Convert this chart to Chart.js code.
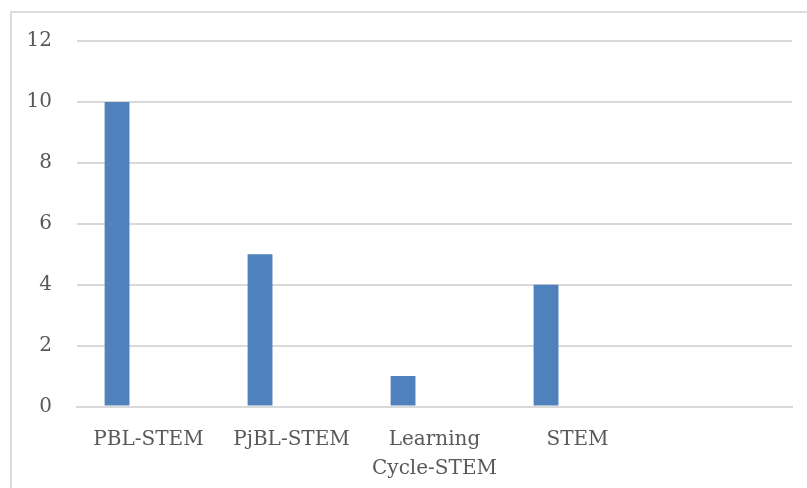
<!DOCTYPE html>
<html>
<head>
<meta charset="utf-8">
<script src="https://cdn.jsdelivr.net/npm/chart.js@4/dist/chart.umd.min.js"></script>
<style>
  html, body { margin: 0; padding: 0; background: #ffffff; overflow: hidden; }
  #frame {
    position: absolute; left: 10px; top: 11px; width: 900px; height: 600px;
    border-left: 2px solid #dcdcdc; border-top: 2px solid #dcdcdc;
  }
  #wrap { position: absolute; left: 0; top: 0; width: 807px; height: 488px; }
</style>
</head>
<body>
<div id="frame"></div>
<div id="wrap"><canvas id="c" width="807" height="488"></canvas></div>
<script>
// Categories (the last slot is left blank)
const categories = ['PBL-STEM', 'PjBL-STEM', ['Learning', 'Cycle-STEM'], 'STEM', ''];
// Series values
const series1 = [10, 5, 1, 4, null];
const series2 = [null, null, null, null, null];
const series3 = [null, null, null, null, null];
// Value axis ticks
const yMin = 0, yMax = 12, yStep = 2;

const textColor = '#595959';
const gridColor = '#d9d9d9';
const font = { family: "'DejaVu Serif', 'Liberation Serif', serif", size: 20 };

new Chart(document.getElementById('c'), {
  type: 'bar',
  data: {
    labels: categories,
    datasets: [
      { label: 'Series1', data: series1, backgroundColor: '#4f81bd' },
      { label: 'Series2', data: series2, backgroundColor: '#c0504d' },
      { label: 'Series3', data: series3, backgroundColor: '#9bbb59' }
    ]
  },
  options: {
    responsive: false,
    animation: false,
    categoryPercentage: 0.66,
    barPercentage: 0.79,
    layout: { padding: { left: 0, right: 15, top: 41, bottom: 0 } },
    plugins: { legend: { display: false }, tooltip: { enabled: false } },
    scales: {
      x: {
        grid: { display: false, drawTicks: false },
        border: { display: true, color: gridColor, width: 2 },
        ticks: { color: textColor, font: { ...font, lineHeight: 1.45 }, padding: 19, maxRotation: 0, autoSkip: false },
        afterFit: s => { s.height = 81.5; }
      },
      y: {
        min: yMin, max: yMax,
        grid: { color: gridColor, lineWidth: 2, drawTicks: false },
        border: { display: false },
        ticks: { stepSize: yStep, color: textColor, font: font, padding: 25 },
        afterFit: s => { s.width = 77; }
      }
    }
  }
});
</script>
</body>
</html>
